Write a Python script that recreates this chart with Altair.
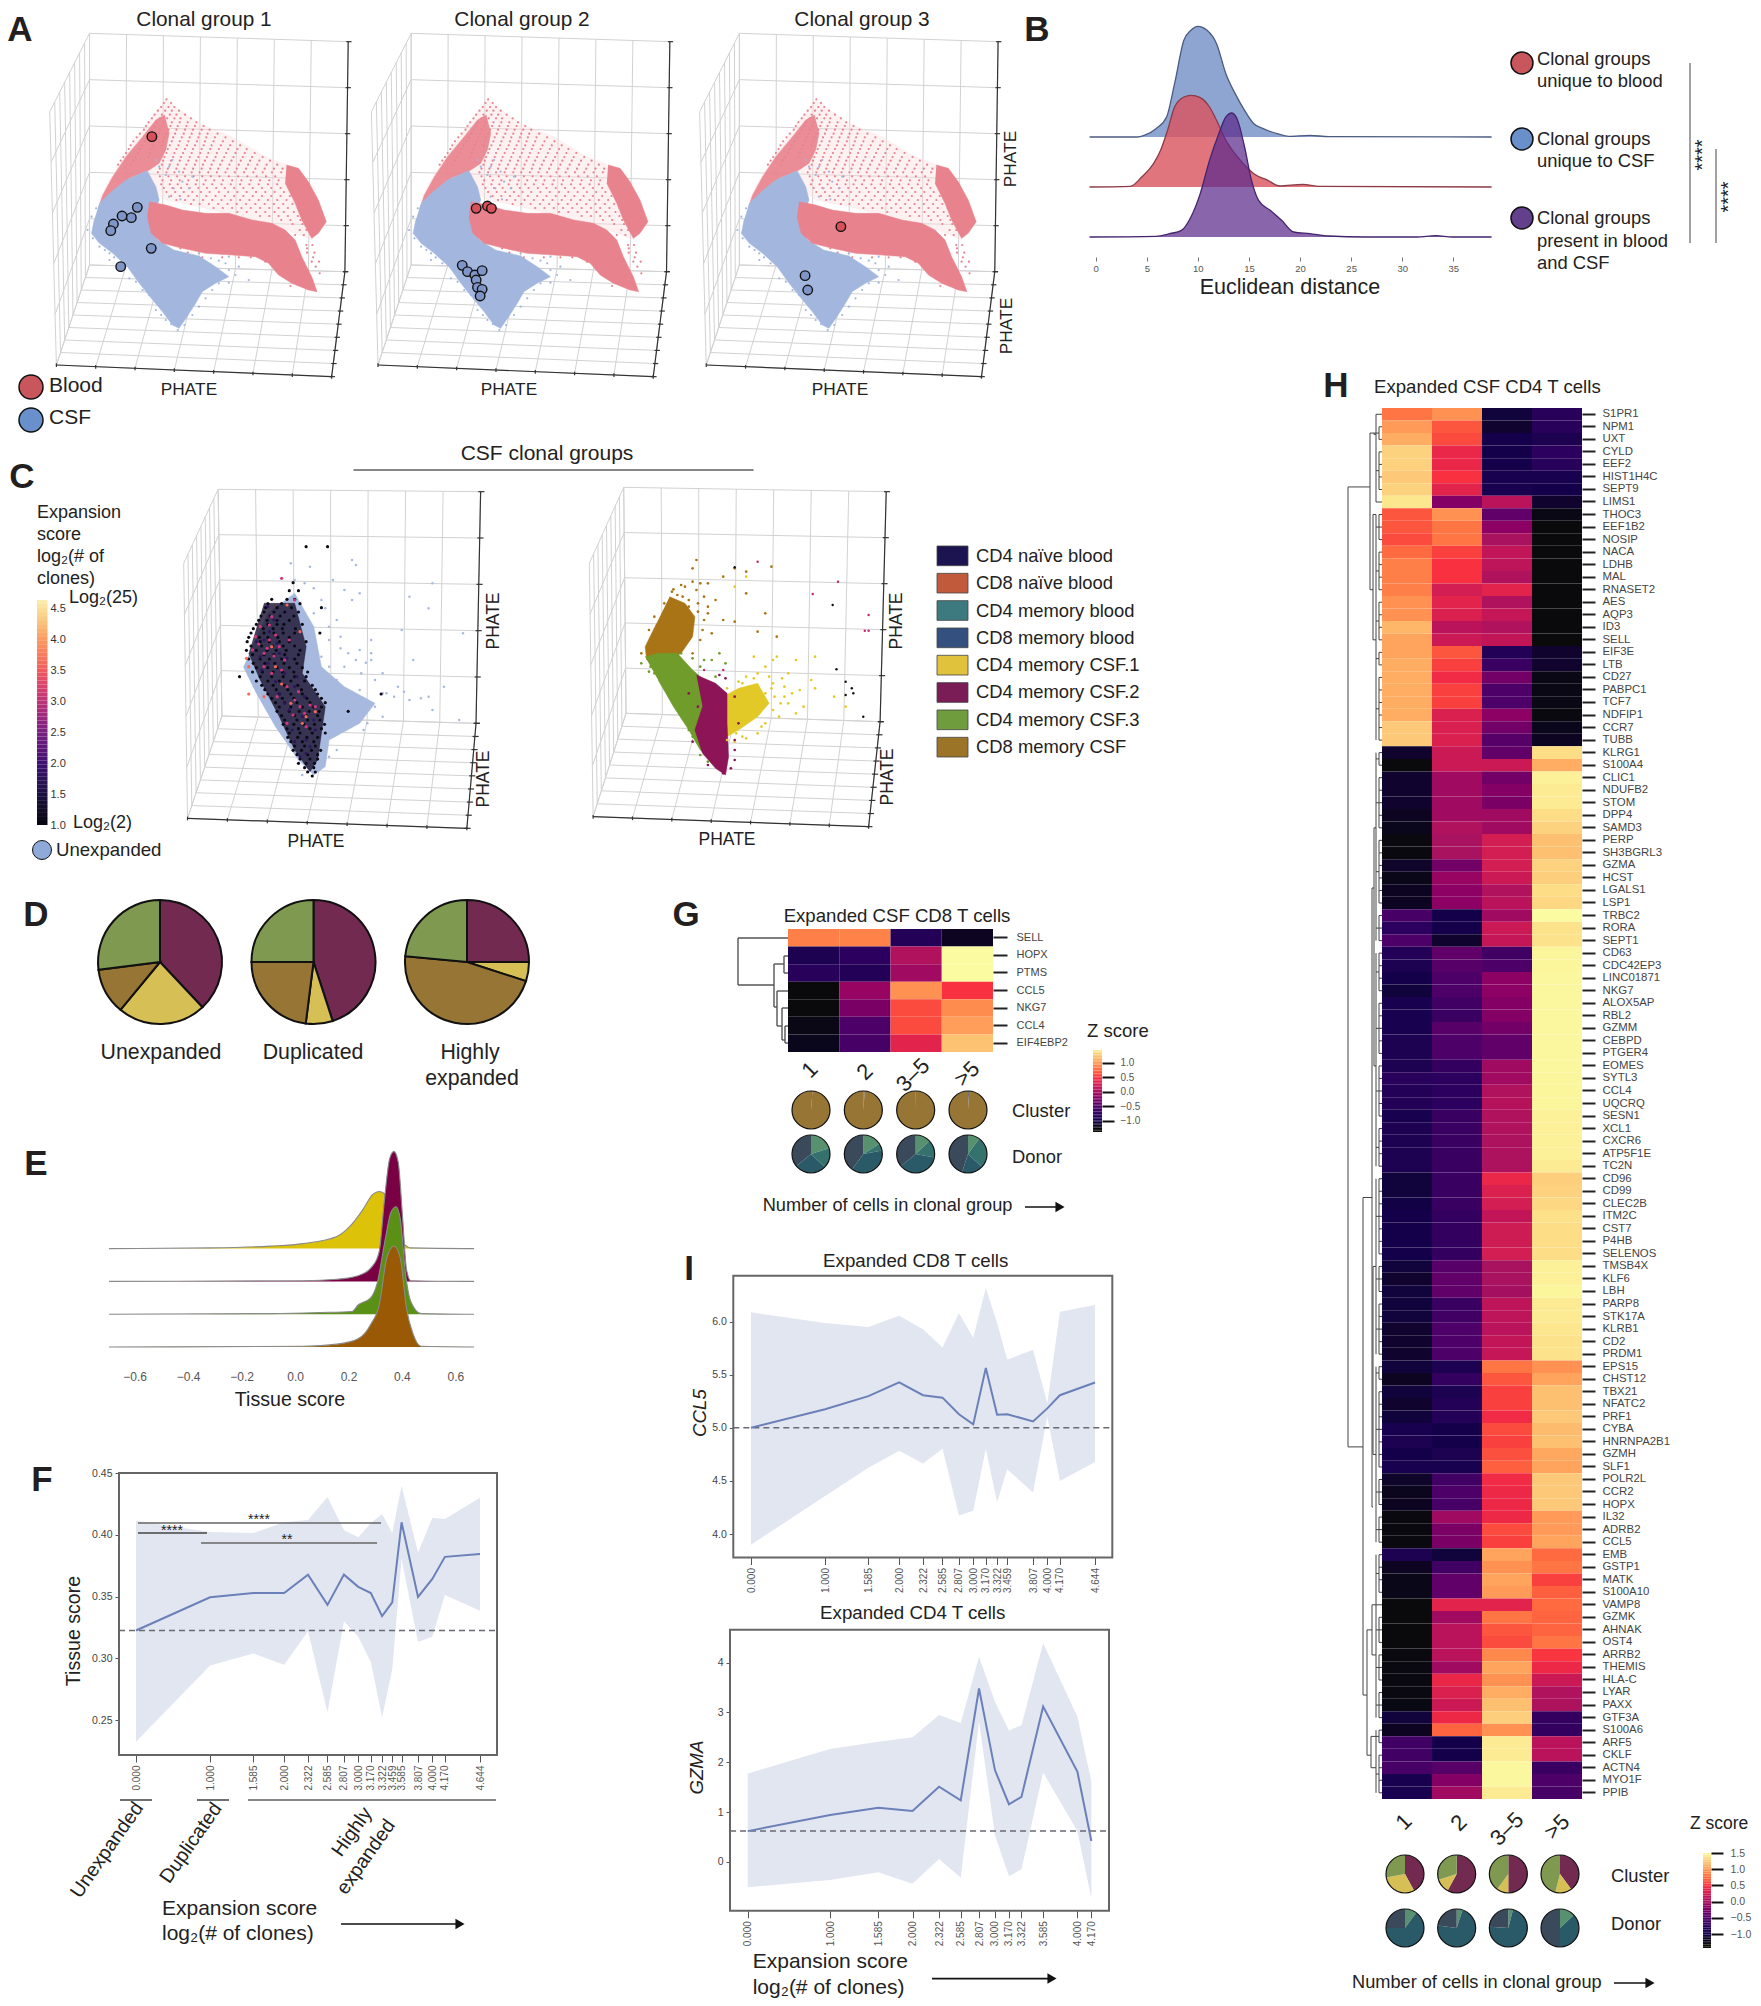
import altair as alt
import numpy as np
import pandas as pd

alt.data_transformers.disable_max_rows()
W, H = 1745, 1990
FONT = "Liberation Sans"
ONE = alt.Data(values=[{"a": 1}])
layers = []


def add(*c):
    layers.extend(c)


def lin(d0, d1, p0, p1):
    return alt.Scale(domain=[d0, d1], range=[p0 - 8, p1 - 8], nice=False, zero=False)


def T(s, x, y, size, align="left", angle=0, color="#222222", weight="normal", style="normal"):
    add(alt.Chart(ONE).mark_text(text=s, fontSize=size, align=align, baseline="middle", angle=angle,
                                 color=color, font=FONT, fontWeight=weight, fontStyle=style)
        .encode(x=alt.value(x - 8), y=alt.value(y - 8)))


def seg(x0, y0, x1, y1, color="#222222", w=1.5):
    add(alt.Chart(ONE).mark_rule(color=color, strokeWidth=w)
        .encode(x=alt.value(x0 - 8), x2=alt.value(x1 - 8), y=alt.value(y0 - 8), y2=alt.value(y1 - 8)))


def arrow(x0, x1, y):
    seg(x0, y, x1 - 6, y, "#111111", 1.6)
    add(alt.Chart(ONE).mark_point(shape="triangle-right", filled=True, size=110, color="#111111", opacity=1)
        .encode(x=alt.value(x1 - 8 - 5), y=alt.value(y - 8)))


def dot(x, y, r, color, sw=1.5):
    add(alt.Chart(ONE).mark_point(shape="circle", filled=True, size=(2 * r) ** 2, fill=color, stroke="#111111",
                                  strokeWidth=sw, opacity=1)
        .encode(x=alt.value(x - 8), y=alt.value(y - 8)))


def frame(x0, y0, x1, y1, color="#666666", w=2):
    add(alt.Chart(ONE).mark_rect(filled=False, stroke=color, strokeWidth=w, fill="transparent")
        .encode(x=alt.value(x0 - 8), x2=alt.value(x1 - 8), y=alt.value(y0 - 8), y2=alt.value(y1 - 8)))


def lines(segs, sx, sy, color, w=1.0):
    rows = []
    for k, (a, b, c, d) in enumerate(segs):
        rows += [{"g": k, "i": 0, "x": a, "y": b}, {"g": k, "i": 1, "x": c, "y": d}]
    add(alt.Chart(pd.DataFrame(rows)).mark_line(color=color, strokeWidth=w)
        .encode(x=alt.X("x:Q", scale=sx, axis=None), y=alt.Y("y:Q", scale=sy, axis=None),
                detail="g:N", order="i:Q"))


def polygon(pts, color, sx, sy, op=1.0):
    df = pd.DataFrame({"x": [p[0] for p in pts], "y": [p[1] for p in pts], "i": list(range(len(pts)))})
    add(alt.Chart(df).mark_line(fill=color, stroke=color, strokeWidth=0.5, fillOpacity=op, strokeOpacity=op)
        .encode(x=alt.X("x:Q", scale=sx, axis=None), y=alt.Y("y:Q", scale=sy, axis=None), order="i:Q"))


def scatter(pts, color, sx, sy, size=4.0, op=1.0):
    df = pd.DataFrame({"x": [p[0] for p in pts], "y": [p[1] for p in pts]})
    add(alt.Chart(df).mark_circle(color=color, size=size, opacity=op)
        .encode(x=alt.X("x:Q", scale=sx, axis=None), y=alt.Y("y:Q", scale=sy, axis=None)))


def rows_to_pts(rows):
    return [(x, y) for y, xs in rows.items() for x in xs]


def lerp(p, q, t):
    return (p[0] + (q[0] - p[0]) * t, p[1] + (q[1] - p[1]) * t)


def wire(c, sx, sy):
    BTL, BTR, BBR, BBL, FTL, FBL, FBR = c
    g = []
    for t in np.linspace(0, 1, 6):
        a, b = lerp(BTL, BBL, t), lerp(BTR, BBR, t)
        g.append((*a, *b))
        f = lerp(FTL, FBL, t)
        g.append((*a, *f))
    for s in np.linspace(0, 1, 8):
        a, b = lerp(BTL, BTR, s), lerp(BBL, BBR, s)
        g.append((*a, *b))
        g.append((*b, *lerp(FBL, FBR, s)))
    for u in np.linspace(0, 1, 9):
        g.append((*lerp(BBL, FBL, u), *lerp(BBR, FBR, u)))
        g.append((*lerp(BTL, FTL, u), *lerp(BBL, FBL, u)))
    lines(g, sx, sy, "#d2d2d2", 1.0)
    d = [(*BTR, *BBR), (*BBR, *FBR), (*FBL, *FBR)]
    for t in np.linspace(0, 1, 6):
        p = lerp(BTR, BBR, t)
        d.append((p[0] - 3, p[1], p[0] + 5, p[1]))
    for u in np.linspace(0, 1, 9):
        p = lerp(BBR, FBR, u)
        d.append((p[0] - 3, p[1], p[0] + 5, p[1]))
    for s in np.linspace(0, 1, 8):
        p = lerp(FBL, FBR, s)
        d.append((p[0], p[1] - 5, p[0], p[1] + 6))
    lines(d, sx, sy, "#333333", 1.2)


# ---------------- Panel A data (PHATE coordinates as read) ----------------
A_BOX = [(135, 100), (525, 125), (520, 815), (135, 795), (75, 335), (85, 1095), (500, 1130)]
A_SHIFT = [0, 485, 980]
A_PINK_ZONE = [(150, 600), (165, 540), (195, 450), (225, 360), (250, 300), (300, 370), (350, 410), (400, 470),
               (440, 500), (470, 580), (490, 670), (470, 720), (420, 680), (300, 620), (250, 600), (220, 560)]
A_PINK_ARC = [(148, 625), (155, 585), (170, 530), (190, 470), (215, 410), (235, 360), (248, 345), (255, 400), (250, 450),
              (240, 490), (225, 510), (195, 535), (175, 570), (165, 610)]
A_PINK_WING = [(432, 495), (450, 505), (465, 545), (480, 600), (492, 665), (480, 700), (470, 715), (455, 660), (445, 610), (430, 550)]
A_PINK_BAND = [(225, 605), (250, 615), (275, 630), (310, 640), (345, 640), (380, 660), (410, 670), (430, 690), (445, 720),
               (455, 770), (470, 830), (478, 875), (465, 870), (440, 850), (420, 825), (405, 790), (385, 770), (350, 765),
               (310, 760), (275, 745), (245, 730), (228, 700), (222, 650)]
A_BLUE_ZONE = [(150, 610), (168, 575), (190, 540), (222, 512), (235, 560), (240, 600), (232, 640), (226, 680), (238, 720),
               (262, 750), (300, 768), (325, 800), (345, 830), (325, 850), (305, 875), (295, 910), (282, 950), (270, 985),
               (260, 975), (245, 935), (228, 895), (210, 850), (192, 800), (170, 760), (150, 730), (138, 700), (142, 660)]
A_PINK_ROWS = {
    298: [251], 309: [247, 258], 321: [243, 254, 263], 332: [238, 249, 259, 270], 344: [233, 244, 256, 266, 279],
    355: [229, 241, 252, 263, 272, 288], 367: [224, 236, 247, 259, 271, 283, 296], 378: [220, 233, 245, 257, 268, 281, 294, 307],
    389: [217, 229, 241, 254, 266, 279, 291, 304, 316], 401: [211, 226, 239, 251, 264, 277, 289, 301, 313, 328],
    412: [206, 222, 236, 248, 261, 274, 286, 299, 311, 324, 340], 424: [201, 218, 234, 246, 259, 271, 284, 297, 309, 322, 336, 351],
    436: [197, 214, 231, 244, 256, 269, 282, 294, 307, 319, 333, 347, 362],
    447: [194, 211, 229, 253, 266, 279, 291, 304, 317, 330, 344, 358, 372],
    459: [190, 208, 226, 251, 263, 276, 289, 302, 314, 327, 341, 355, 369, 384],
    471: [186, 204, 224, 248, 261, 273, 286, 299, 312, 325, 338, 352, 366, 380, 396],
    482: [182, 201, 246, 258, 271, 284, 296, 309, 322, 335, 349, 363, 377, 391, 407],
    494: [178, 197, 244, 256, 268, 281, 294, 306, 319, 332, 346, 360, 374, 388, 402, 418],
    506: [241, 253, 266, 278, 291, 304, 317, 329, 343, 357, 371, 385, 399, 413, 426],
    517: [238, 251, 263, 276, 289, 301, 314, 327, 340, 354, 368, 382, 396, 410, 424],
    529: [241, 254, 267, 279, 292, 305, 318, 331, 345, 359, 373, 387, 401, 415],
    541: [245, 258, 271, 284, 297, 310, 323, 336, 350, 364, 378, 392, 406, 420],
    553: [243, 256, 268, 282, 295, 307, 320, 334, 348, 362, 376, 390, 404, 418, 433],
    564: [247, 260, 273, 286, 299, 312, 326, 339, 353, 367, 381, 395, 409, 423, 437],
    576: [251, 264, 277, 290, 303, 316, 330, 344, 358, 372, 386, 400, 414, 428, 442],
    588: [258, 271, 284, 297, 311, 325, 339, 353, 367, 381, 395, 409, 423, 437],
    600: [266, 279, 292, 306, 320, 334, 348, 362, 376, 390, 404, 418, 432, 446],
    612: [288, 301, 315, 329, 343, 357, 371, 385, 399, 413, 427, 441],
    624: [322, 336, 350, 364, 378, 392, 406, 420, 434, 449], 636: [358, 372, 386, 400, 414, 428, 443],
    648: [392, 406, 420, 434, 449], 660: [424, 438, 453], 672: [441, 456],
    690: [452, 462], 705: [445, 458], 735: [232, 462, 471], 745: [255, 272, 463], 758: [283, 463, 474],
    772: [305, 335, 360, 378, 396, 472], 785: [400, 470, 481], 800: [412, 476], 820: [425, 482], 840: [445, 456], 858: [438, 462],
}
A_BLUE_DOTS = [(140, 715), (150, 740), (158, 750), (165, 760), (172, 772), (165, 780), (182, 790), (195, 835), (205, 845), (215, 870),
               (225, 885), (235, 930), (243, 945), (250, 960), (258, 972), (268, 990), (278, 975), (290, 945), (300, 920), (310, 895),
               (320, 870), (330, 850), (345, 848), (360, 800), (345, 810), (355, 825), (375, 840), (340, 790), (330, 782), (345, 770),
               (318, 775), (335, 760), (300, 760), (255, 500), (270, 515), (290, 530), (260, 480), (240, 500), (235, 480), (250, 525),
               (275, 545), (262, 565), (285, 565), (255, 590), (272, 598), (140, 700), (132, 690), (145, 625), (138, 650), (150, 720)]
A1_BLUE = [(207, 622), (184, 648), (198, 653), (171, 672), (167, 692), (228, 745), (182, 800)]
A1_RED = [(229, 410)]
A2_BLUE = [(212, 796), (220, 815), (231, 825), (242, 812), (233, 840), (235, 862), (242, 868), (239, 888)]
A2_RED = [(233, 625), (250, 618), (256, 625)]
A3_BLUE = [(234, 827), (238, 870)]
A3_RED = [(288, 680)]
A_PICKS = [(A1_BLUE, A1_RED), (A2_BLUE, A2_RED), (A3_BLUE, A3_RED)]
PINK, BLUE = "#e8828c", "#a2b6de"

for n, dz in enumerate(A_SHIFT):
    dp = dz / 1.508
    sx = lin(0, 1568, dp, 1040 + dp)
    sy = lin(0, 1320, 0, 440)
    wire(A_BOX, sx, sy)
    polygon(A_PINK_ZONE, "#f9dcdf", sx, sy, 0.4)
    scatter(rows_to_pts(A_PINK_ROWS), PINK, sx, sy, 5)
    polygon(A_PINK_ARC, PINK, sx, sy, 0.9)
    polygon(A_BLUE_ZONE, BLUE, sx, sy)
    scatter(A_BLUE_DOTS, BLUE, sx, sy, 5)
    polygon(A_PINK_WING, PINK, sx, sy)
    polygon(A_PINK_BAND, PINK, sx, sy)
    for pts, col in zip(A_PICKS[n], ["#7f95c8", "#d8505a"]):
        df = pd.DataFrame({"x": [p[0] for p in pts], "y": [p[1] for p in pts]})
        add(alt.Chart(df).mark_point(shape="circle", filled=True, size=90, fill=col, stroke="#111111", strokeWidth=1.4,
                                     opacity=1)
            .encode(x=alt.X("x:Q", scale=sx, axis=None), y=alt.Y("y:Q", scale=sy, axis=None)))

for s, x in zip(["Clonal group 1", "Clonal group 2", "Clonal group 3"], [204, 522, 862]):
    T(s, x, 20, 20.8, "center")
for x in [189, 509, 840]:
    T("PHATE", x, 390, 17.3, "center")
T("PHATE", 1011, 159, 17.3, "center", 270)
T("PHATE", 1007, 326, 17.3, "center", 270)
dot(31, 387, 12, "#c9565c")
dot(31, 420, 12, "#6a90cc")
T("Blood", 49, 386, 21)
T("CSF", 49, 418, 21)

# ---------------- Panel B ----------------
B_BLUE_X = [-0.6, 4.06, 4.75, 5.9, 6.94, 7.72, 8.63, 9.32, 10.0, 10.9, 11.83, 12.74, 13.65, 14.57, 15.48, 16.39, 17.76, 18.9, 20.96, 22.8, 38.75]
B_BLUE_D = [0, 0, 5, 25, 60, 160, 290, 320, 332, 320, 280, 190, 130, 80, 40, 25, 10, 2, 5, 1, 0]
B_RED_X = [-0.6, 3.4, 4.5, 5.66, 6.35, 7.03, 7.72, 8.63, 9.32, 10.23, 11.14, 11.83, 12.74, 13.89, 15.48, 16.85, 18.0, 20.27, 21.87, 38.75]
B_RED_D = [0, 2, 30, 70, 110, 170, 240, 270, 275, 268, 240, 200, 140, 90, 40, 20, 3, 8, 2, 0]
B_PUR_X = [-0.6, 5.9, 7.26, 8.4, 9.32, 10.23, 11.14, 12.05, 12.74, 13.33, 13.89, 14.57, 15.25, 15.94, 17.08, 18.2, 19.37, 20.96, 22.8, 26.4, 31.45, 33.3, 34.9, 38.75]
B_PUR_D = [0, 2, 10, 20, 60, 130, 230, 310, 360, 372, 350, 270, 170, 110, 80, 50, 15, 10, 3, 0, 0, 4, 0, 0]
B_BASE = [137, 187, 237]
B_FILL = ["#6f8cc4", "#d9535c", "#5c2a8c"]
B_EDGE = ["#4a5a80", "#8a3a48", "#43246e"]
B_OP = [0.78, 0.8, 0.72]
bx = lin(0, 35, 1095.7, 1453.3)
for xs, ds, base, fc, ec, op in zip([B_BLUE_X, B_RED_X, B_PUR_X], [B_BLUE_D, B_RED_D, B_PUR_D], B_BASE, B_FILL, B_EDGE, B_OP):
    df = pd.DataFrame({"x": xs, "d": ds})
    by = lin(0, 1000, base, base - 333.33)
    add(alt.Chart(df).mark_area(color=fc, opacity=op, interpolate="monotone")
        .encode(x=alt.X("x:Q", scale=bx, axis=None), y=alt.Y("d:Q", scale=by, axis=None, stack=None)))
    add(alt.Chart(df).mark_line(color=ec, strokeWidth=1.3, interpolate="monotone")
        .encode(x=alt.X("x:Q", scale=bx, axis=None), y=alt.Y("d:Q", scale=by, axis=None)))
B_TICKS = [0, 5, 10, 15, 20, 25, 30, 35]
add(alt.Chart(pd.DataFrame({"x": B_TICKS, "y": [0] * 8})).mark_point(opacity=0)
    .encode(x=alt.X("x:Q", scale=bx, axis=alt.Axis(orient="bottom", offset=257 - 8 - H, values=B_TICKS, title=None,
                                                   domain=False, tickSize=4, tickColor="#777777", labelColor="#555555",
                                                   labelFont=FONT, labelFontSize=9.5, labelPadding=2, grid=False,
                                                   labelFlush=False, labelBound=False)),
            y=alt.Y("y:Q", scale=lin(0, 1, 250, 240), axis=None)))
T("Euclidean distance", 1290, 288, 21.5, "center")
for y, c in zip([63, 139, 218], ["#c9565c", "#6a90cc", "#63408c"]):
    dot(1522, y, 11, c)
for s, y in [("Clonal groups", 59), ("unique to blood", 81), ("Clonal groups", 139), ("unique to CSF", 161),
             ("Clonal groups", 218), ("present in blood", 241), ("and CSF", 263)]:
    T(s, 1537, y, 18.4)
seg(1690, 63, 1690, 243, "#444444", 1)
seg(1716, 149, 1716, 243, "#444444", 1)
T("****", 1703, 155, 20, "center", 270)
T("****", 1729, 197, 20, "center", 270)

# ---------------- Panel C ----------------
C1_BOX = [(285, 148), (628, 155), (622, 850), (290, 828), (240, 370), (245, 1135), (610, 1165)]
C2_BOX = [(815, 142), (1158, 155), (1150, 845), (818, 820), (770, 370), (775, 1130), (1135, 1160)]
csx, csy = lin(0, 1568, 0, 1200), lin(0, 1350, 440, 890)
wire(C1_BOX, csx, csy)
wire(C2_BOX, csx, csy)
C1_ZONE = [(330, 620), (350, 520), (385, 460), (410, 560), (420, 680), (450, 740), (490, 790), (470, 850), (430, 900), (425, 980),
           (410, 1005), (390, 960), (360, 860), (335, 760), (318, 680)]
C1_CORE = [(345, 490), (385, 490), (400, 620), (395, 700), (425, 800), (420, 880), (415, 960), (405, 995), (385, 930), (365, 830),
           (340, 720), (325, 640)]
C1_LIGHT = [(460, 360), (465, 375), (380, 370), (435, 420), (450, 450), (470, 460), (535, 470), (525, 570), (560, 505), (605, 580),
            (565, 430), (485, 600), (485, 660), (430, 600), (410, 520), (540, 660), (500, 700), (520, 740), (580, 740), (600, 840),
            (560, 770), (550, 775), (515, 770), (490, 800), (480, 850), (455, 790), (470, 750), (440, 720), (450, 680), (420, 650),
            (445, 625), (465, 660), (490, 720), (505, 760), (535, 780), (565, 810), (500, 830), (475, 870), (460, 815), (430, 560),
            (420, 480), (440, 540), (460, 480), (455, 640), (430, 680), (398, 430), (385, 420), (410, 445), (425, 505), (445, 590),
            (470, 630), (405, 380), (485, 640), (478, 668), (500, 760), (528, 755), (472, 700), (440, 930), (430, 950), (395, 1005)]
C1_BLACK_ROWS = {
    320: [400, 428], 428: [383], 452: [378, 390], 478: [355, 375, 385], 491: [350, 368, 392], 503: [347, 362, 381, 420], 516: [345, 358, 372, 390],
    528: [341, 353, 366, 384], 541: [338, 349, 362, 378], 553: [335, 350, 362, 371, 395], 566: [331, 344, 357, 369, 386],
    579: [328, 345, 358, 370, 385, 418], 592: [325, 339, 350, 363, 378], 605: [323, 340, 352, 365, 378, 400],
    618: [328, 342, 356, 370, 385], 631: [322, 335, 349, 361, 374, 392], 644: [330, 345, 358, 372, 390], 657: [325, 340, 352, 368, 385],
    670: [331, 346, 359, 371, 388], 683: [335, 350, 362, 378, 395], 696: [330, 343, 357, 369, 384, 402], 710: [313, 340, 355, 370, 385, 400],
    723: [335, 350, 365, 380, 398], 736: [342, 357, 372, 389, 408], 749: [346, 361, 376, 394, 412], 762: [350, 365, 380, 395, 415, 498],
    775: [355, 369, 384, 401, 420], 788: [360, 372, 388, 405, 425], 801: [365, 380, 395, 410, 420], 814: [362, 378, 391, 404, 417, 455],
    827: [368, 385, 400, 415], 840: [372, 388, 402, 418], 853: [370, 384, 397, 411, 424], 866: [375, 390, 405, 420],
    879: [378, 392, 408, 425], 892: [376, 389, 401, 415], 905: [380, 395, 410], 918: [385, 398, 412], 931: [383, 394, 407, 419],
    944: [388, 402, 415], 957: [392, 405, 415], 970: [390, 400, 411], 983: [398, 410], 996: [402, 412], 1008: [408],
}
C1_DARK = [(350, 500), (358, 540), (345, 600), (365, 640), (350, 670), (372, 700), (385, 740), (372, 790), (395, 830), (382, 870),
           (400, 900), (392, 950), (405, 920), (378, 810), (410, 840), (360, 725), (340, 650), (335, 605), (352, 575), (362, 610),
           (375, 655), (342, 690), (388, 710), (398, 770), (365, 760), (412, 870), (385, 905), (400, 940)]
C1_MAG = [(368, 415), (340, 560), (352, 600), (365, 620), (345, 640), (372, 660), (355, 700), (385, 780), (398, 820), (375, 740),
          (355, 530), (330, 630), (345, 680), (378, 600), (362, 770), (392, 800), (375, 850), (400, 860), (385, 480), (360, 585),
          (338, 612), (358, 648), (349, 625), (334, 590), (368, 690), (390, 755), (405, 795), (383, 825), (412, 800), (352, 555)]
C1_ORG = [(325, 762), (392, 575), (375, 495), (360, 680), (400, 830), (345, 770), (325, 680), (355, 620), (380, 790), (412, 815),
          (322, 655), (368, 732), (395, 850)]
polygon(C1_ZONE, "#a7b9de", csx, csy)
scatter(C1_LIGHT, "#a7b9de", csx, csy, 6)
polygon(C1_CORE, "#1e1634", csx, csy, 0.82)
scatter(rows_to_pts(C1_BLACK_ROWS), "#0a0a14", csx, csy, 10)
scatter(C1_DARK, "#2d1560", csx, csy, 10)
scatter(C1_MAG, "#d0387f", csx, csy, 10)
scatter(C1_ORG, "#f26a55", csx, csy, 10)

C2_BROWN = [(875, 470), (895, 490), (908, 530), (905, 590), (890, 640), (870, 665), (845, 660), (843, 620), (858, 550)]
C2_GREEN = [(843, 650), (860, 640), (885, 640), (905, 690), (925, 730), (920, 800), (912, 870), (925, 950), (915, 930), (900, 870),
            (880, 800), (860, 720)]
C2_MAROON = [(910, 705), (935, 730), (950, 760), (950, 850), (952, 950), (948, 1005), (935, 985), (918, 940), (908, 870), (918, 800)]
C2_YELLOW = [(945, 770), (965, 745), (990, 730), (1005, 790), (990, 830), (965, 870), (950, 890)]
polygon(C2_BROWN, "#a87415", csx, csy)
polygon(C2_GREEN, "#6f9c2a", csx, csy)
polygon(C2_YELLOW, "#e3c928", csx, csy)
polygon(C2_MAROON, "#8c1457", csx, csy)
C2_BROWN_DOTS = [(910, 360), (905, 385), (960, 385), (975, 395), (1008, 380), (890, 435), (915, 430), (925, 430), (945, 410), (900, 480),
                 (920, 470), (935, 480), (975, 460), (1000, 520), (945, 540), (960, 545), (990, 575), (1015, 590), (925, 520), (930, 580),
                 (910, 450), (885, 465), (900, 500), (920, 540), (915, 600), (905, 640), (878, 455), (892, 470), (868, 490), (855, 530),
                 (848, 570), (838, 640), (912, 515), (918, 570), (880, 448), (905, 425), (895, 440), (912, 490), (925, 500)]
C2_YEL_DOTS = [(1015, 650), (1040, 660), (1065, 650), (985, 650), (1000, 680), (1030, 700), (1060, 720), (1045, 750), (1090, 770),
               (1105, 800), (1050, 800), (1000, 850), (1020, 790), (1040, 820), (990, 700), (970, 730), (1010, 730), (1000, 760),
               (980, 830), (1010, 660), (1035, 760), (1065, 745), (975, 410), (960, 440), (1010, 810), (1025, 740), (990, 880), (970, 890),
               (1012, 770), (1018, 830), (995, 860), (975, 895), (960, 905), (985, 715), (965, 725), (950, 745), (1005, 710), (1022, 715),
               (1008, 745), (1030, 790), (1025, 770), (975, 710), (950, 900), (962, 880)]
C2_BLK_DOTS = [(1093, 688), (1105, 725), (1113, 745), (1115, 760), (1105, 765), (1128, 830), (960, 382), (1088, 495)]
C2_MAG_DOTS = [(1095, 425), (1062, 462), (1135, 525), (1130, 572), (1135, 572), (990, 365), (945, 690), (920, 690)]
C2_GRN_DOTS = [(850, 680), (865, 730), (875, 760), (890, 810), (900, 870), (930, 660), (940, 640), (890, 640), (915, 680), (880, 700),
               (855, 700), (870, 745), (882, 780), (895, 840), (905, 890), (915, 945), (925, 965), (935, 710), (948, 670), (905, 655),
               (838, 670), (848, 695), (920, 660)]
C2_MAR_DOTS = [(945, 1000), (930, 960), (960, 960), (960, 900), (965, 850), (925, 740), (960, 770), (925, 975), (955, 985), (905, 905),
               (960, 930), (912, 800), (900, 760), (948, 715), (940, 705)]
scatter(C2_BROWN_DOTS, "#a87415", csx, csy, 7)
scatter(C2_YEL_DOTS, "#e3c928", csx, csy, 7)
scatter(C2_GRN_DOTS, "#6f9c2a", csx, csy, 7)
scatter(C2_MAR_DOTS, "#8c1457", csx, csy, 7)
scatter(C2_MAG_DOTS, "#c02a70", csx, csy, 6)
scatter(C2_BLK_DOTS, "#111111", csx, csy, 6)

T("CSF clonal groups", 547, 454, 21, "center")
seg(353.5, 470, 753.6, 470, "#888888", 2)
for s, y in [("Expansion", 513), ("score", 535), ("log₂(# of", 557), ("clones)", 579)]:
    T(s, 37, y, 18)
T("Log₂(25)", 69, 598, 18)
T("Log₂(2)", 73, 823, 18)
dot(42, 850, 9.5, "#8fa9d8", 1)
T("Unexpanded", 56, 850, 18.6)
T("PHATE", 316, 842, 17.5, "center")
T("PHATE", 727, 840, 17.5, "center")
T("PHATE", 493.5, 621, 17.5, "center", 270)
T("PHATE", 483.5, 779, 17.5, "center", 270)
T("PHATE", 896.7, 621, 17.5, "center", 270)
T("PHATE", 887.5, 777, 17.5, "center", 270)

C_STOPS = [1.0, 1.5, 2.0, 2.5, 3.0, 3.5, 4.0, 4.64]
C_COLORS = ["#05040c", "#1c1040", "#3f0f72", "#782281", "#bb3478", "#ef5b5e", "#fb9a62", "#fcf0b0"]


def cbar(vmin, vmax, y_bot, y_top, x0, x1, stops, cols, ticks, tick, pad, fs, color):
    v = np.linspace(vmin, vmax, 57)
    df = pd.DataFrame({"lo": v[:-1], "hi": v[1:], "m": (v[:-1] + v[1:]) / 2})
    add(alt.Chart(df).mark_rect()
        .encode(x=alt.value(x0 - 8), x2=alt.value(x1 - 8),
                y=alt.Y("lo:Q", scale=lin(vmin, vmax, y_bot, y_top),
                        axis=alt.Axis(orient="right", offset=x1 - 8 - W, values=ticks, format=".1f", title=None, domain=False,
                                      grid=False, tickSize=tick, tickWidth=2, tickColor="#111111", labelPadding=pad,
                                      labelFontSize=fs, labelColor=color, labelFont=FONT, labelFlush=False, labelBound=False)),
                y2="hi:Q",
                color=alt.Color("m:Q", scale=alt.Scale(domain=stops, range=cols), legend=None)))


cbar(1.0, 4.64, 825, 600, 37, 47.5, C_STOPS, C_COLORS, [1.0, 1.5, 2.0, 2.5, 3.0, 3.5, 4.0, 4.5], 0, 2.5, 11, "#333333")

L_NAMES = ["CD4 naïve blood", "CD8 naïve blood", "CD4 memory blood", "CD8 memory blood", "CD4 memory CSF.1", "CD4 memory CSF.2",
           "CD4 memory CSF.3", "CD8 memory CSF"]
L_COLORS = ["#1c1450", "#c15a3a", "#3d7a80", "#33507e", "#e0c23c", "#7a1c56", "#6f9c3c", "#9c7428"]
add(alt.Chart(pd.DataFrame({"n": L_NAMES})).mark_rect(stroke="#444444", strokeWidth=0.8)
    .encode(x=alt.value(937 - 8), x2=alt.value(968 - 8),
            y=alt.Y("n:N", sort=L_NAMES,
                    scale=alt.Scale(domain=L_NAMES, range=[546 - 8, 757 - 8], paddingInner=0.28, paddingOuter=0),
                    axis=alt.Axis(orient="right", offset=968 - 8 - W, title=None, domain=False, ticks=False, labelPadding=7.5,
                                  labelFontSize=18.4, labelColor="#222222", labelFont=FONT, grid=False, labelLimit=300)),
            color=alt.Color("n:N", scale=alt.Scale(domain=L_NAMES, range=L_COLORS), legend=None)))

# ---------------- Pies ----------------
MAROON, YEL, BROWN, GREEN = "#722a50", "#d6bf55", "#977535", "#7f9a50"
SLICE_COLORS = {"maroon": MAROON, "yellow": YEL, "brown": BROWN, "green": GREEN, "gray": "#6f7078",
                "d1": "#58916f", "d2": "#35726e", "d3": "#2a5a68", "d4": "#3a4a5a"}


def pies(shares, names, xs, y, r, sw=1.6, separators=False):
    rows = []
    for i, sh in enumerate(shares):
        c = 0.0
        for nm, v in zip(names, sh):
            if v <= 0:
                continue
            rows.append({"pie": str(i), "s": nm, "a": c, "b": c + v})
            c += v
    dom = [str(i) for i in range(len(shares))]
    xsc = alt.Scale(type="point", domain=dom, range=[xs[0] - 8, xs[1] - 8], padding=0)
    tsc = alt.Scale(domain=[0, 1], range=[0, 2 * np.pi])
    kw = {"stroke": "#111111", "strokeWidth": sw} if separators else {}
    add(alt.Chart(pd.DataFrame(rows)).mark_arc(outerRadius=r, **kw)
        .encode(x=alt.X("pie:N", scale=xsc, axis=None), y=alt.value(y - 8),
                theta=alt.Theta("a:Q", scale=tsc, stack=None), theta2="b:Q",
                color=alt.Color("s:N", scale=alt.Scale(domain=names, range=[SLICE_COLORS[n] for n in names]), legend=None)))
    if not separators:
        ring = pd.DataFrame({"pie": dom, "a": [0.0] * len(dom), "b": [1.0] * len(dom)})
        add(alt.Chart(ring).mark_arc(outerRadius=r, fill="transparent", stroke="#111111", strokeWidth=sw)
            .encode(x=alt.X("pie:N", scale=xsc, axis=None), y=alt.value(y - 8),
                    theta=alt.Theta("a:Q", scale=tsc, stack=None), theta2="b:Q"))


D_SHARES = [[0.38, 0.23, 0.12, 0.27], [0.45, 0.07, 0.23, 0.25], [0.25, 0.05, 0.465, 0.235]]
pies(D_SHARES, ["maroon", "yellow", "brown", "green"], [160, 467], 962, 62, 2, True)
T("Unexpanded", 161, 1053, 21.3, "center")
T("Duplicated", 313, 1053, 21.3, "center")
T("Highly", 470, 1053, 21.3, "center")
T("expanded", 472, 1079, 21.3, "center")

# ---------------- Panel E ----------------
E_Y_X = [-0.696, -0.315, -0.094, 0.031, 0.157, 0.205, 0.252, 0.291, 0.315, 0.339, 0.354, 0.386, 0.409, 0.433, 0.67]
E_Y_D = [0, 2, 7, 14, 34, 62, 107, 152, 160, 150, 100, 32, 12, 2, 0]
E_M_X = [-0.696, 0.031, 0.157, 0.236, 0.291, 0.315, 0.334, 0.354, 0.37, 0.386, 0.402, 0.417, 0.433, 0.67]
E_M_D = [0, 2, 6, 16, 44, 84, 224, 344, 364, 334, 184, 34, 2, 0]
E_G_X = [-0.696, -0.094, 0.094, 0.213, 0.236, 0.283, 0.307, 0.339, 0.359, 0.378, 0.394, 0.413, 0.433, 0.472, 0.67]
E_G_D = [0, 2, 5, 8, 26, 46, 86, 216, 286, 301, 266, 116, 36, 2, 0]
E_B_X = [-0.696, 0.031, 0.157, 0.236, 0.283, 0.315, 0.343, 0.37, 0.394, 0.417, 0.441, 0.472, 0.67]
E_B_D = [0, 2, 8, 23, 63, 118, 248, 283, 248, 108, 38, 2, 0]
ex = lin(-0.6, 0.6, 134.7, 455.4)
E_SERIES = [(E_Y_X, E_Y_D, 1248.6, "#dcc208"), (E_M_X, E_M_D, 1281.4, "#7a0044"), (E_G_X, E_G_D, 1314.3, "#5a9016"), (E_B_X, E_B_D, 1347, "#9a5a05")]
for xs, ds, base, col in E_SERIES:
    df = pd.DataFrame({"x": xs, "d": ds})
    ey = lin(0, 400, base, base - 400 / 2.8)
    add(alt.Chart(df).mark_area(color=col, interpolate="monotone")
        .encode(x=alt.X("x:Q", scale=ex, axis=None), y=alt.Y("d:Q", scale=ey, axis=None, stack=None)))
    add(alt.Chart(df).mark_line(color="#8a8a8a", strokeWidth=1.1, interpolate="monotone")
        .encode(x=alt.X("x:Q", scale=ex, axis=None), y=alt.Y("d:Q", scale=ey, axis=None)))
E_TICKS = [-0.6, -0.4, -0.2, 0.0, 0.2, 0.4, 0.6]
add(alt.Chart(pd.DataFrame({"x": E_TICKS, "y": [0] * 7})).mark_point(opacity=0)
    .encode(x=alt.X("x:Q", scale=ex, axis=alt.Axis(orient="bottom", offset=1370 - 8 - H, values=E_TICKS, format=".1f", title=None,
                                                   domain=False, ticks=False, labelColor="#555555", labelFont=FONT,
                                                   labelFontSize=12, labelPadding=1, grid=False, labelFlush=False, labelBound=False)),
            y=alt.Y("y:Q", scale=lin(0, 1, 1360, 1350), axis=None)))
T("Tissue score", 290, 1400, 19.6, "center")

# ---------------- Line panels ----------------


def band_panel(xs, mean, lo, hi, dash, x0px, unit, box, yticks, yp, ticks_x, labsize, y_fmt):
    x_left, y_top, x_right, y_bot = box
    xmin, xmax = (x_left - x0px) / unit, (x_right - x0px) / unit
    sx = lin(xmin, xmax, x_left, x_right)
    (v0, p0), (v1, p1) = yp
    sy = lin(v0 + (y_bot - p0) * (v1 - v0) / (p1 - p0), v0 + (y_top - p0) * (v1 - v0) / (p1 - p0), y_bot, y_top)
    df = pd.DataFrame({"x": xs, "m": mean, "lo": lo, "hi": hi})
    add(alt.Chart(df).mark_area(color="#e1e6f1")
        .encode(x=alt.X("x:Q", scale=sx, axis=None), y=alt.Y("lo:Q", scale=sy, axis=None), y2="hi:Q"))
    add(alt.Chart(pd.DataFrame({"x": [xmin, xmax], "y": [dash, dash]}))
        .mark_line(color="#6a6a72", strokeWidth=1.5, strokeDash=[6, 4])
        .encode(x=alt.X("x:Q", scale=sx, axis=None), y=alt.Y("y:Q", scale=sy, axis=None)))
    add(alt.Chart(df).mark_line(color="#6b80b8", strokeWidth=2)
        .encode(x=alt.X("x:Q", scale=sx,
                        axis=alt.Axis(orient="bottom", offset=y_bot - 8 - H, values=ticks_x, format=".3f", title=None, domain=False,
                                      grid=False, tickSize=7, tickColor="#555555", labelAngle=270, labelAlign="right",
                                      labelBaseline="middle", labelPadding=3, labelFontSize=labsize, labelColor="#555555",
                                      labelFont=FONT, labelOverlap=False, labelBound=False, labelFlush=False)),
                y=alt.Y("m:Q", scale=sy,
                        axis=alt.Axis(orient="left", offset=-(x_left - 8), values=yticks, format=y_fmt, title=None, domain=False,
                                      grid=False, tickSize=4, tickColor="#555555", labelFontSize=10.5, labelColor="#444444",
                                      labelFont=FONT, labelPadding=3, labelOverlap=False, labelFlush=False, labelBound=False))))
    frame(x_left, y_top, x_right, y_bot, "#666666", 2)


F_X = [0.0, 1.0, 1.585, 2.0, 2.322, 2.585, 2.807, 3.0, 3.17, 3.322, 3.459, 3.585, 3.807, 4.0, 4.17, 4.644]
F_M = [0.3225, 0.3494, 0.3529, 0.3529, 0.3678, 0.3433, 0.3678, 0.3579, 0.3529, 0.3342, 0.3453, 0.4102, 0.3497, 0.3643, 0.3822, 0.3845]
F_HI = [0.4114, 0.4023, 0.4015, 0.4102, 0.412, 0.4307, 0.4038, 0.398, 0.4096, 0.417, 0.4015, 0.4398, 0.3857, 0.4137, 0.4129, 0.4301]
F_LO = [0.2324, 0.2941, 0.3038, 0.2947, 0.3219, 0.2561, 0.3301, 0.3175, 0.297, 0.2523, 0.2912, 0.3804, 0.3132, 0.3175, 0.3512, 0.3386]
band_panel(F_X, F_M, F_LO, F_HI, 0.3225, 136, 74.08, (119, 1473, 497, 1755), [0.25, 0.30, 0.35, 0.40, 0.45],
           ((0.25, 1720), (0.45, 1473.2)), F_X, 10, ".2f")
T("Tissue score", 74, 1631, 19.6, "center", 270)
seg(138, 1523, 381, 1523, "#666666", 1.6)
seg(138, 1533, 207, 1533, "#444444", 1.3)
seg(201, 1543, 377, 1543, "#666666", 1.6)
T("****", 259, 1520, 14, "center")
T("****", 172, 1531, 14, "center")
T("**", 287, 1540, 14, "center")
seg(120, 1800, 152, 1800, "#111111", 1.2)
seg(197, 1800, 229, 1800, "#111111", 1.2)
seg(248, 1800, 496, 1800, "#111111", 1.2)
T("Unexpanded", 107, 1850, 19.7, "center", 305)
T("Duplicated", 191, 1843, 19.7, "center", 305)
T("Highly", 352, 1832, 19.7, "center", 305)
T("expanded", 366, 1857, 19.7, "center", 305)
T("Expansion score", 162, 1909, 21)
T("log₂(# of clones)", 162, 1934, 21)
arrow(341, 465, 1924)

I1_X = [0.0, 1.0, 1.585, 2.0, 2.322, 2.585, 2.807, 3.0, 3.17, 3.322, 3.459, 3.807, 4.0, 4.17, 4.644]
I1_M = [5.0, 5.174, 5.298, 5.427, 5.307, 5.284, 5.128, 5.032, 5.564, 5.124, 5.128, 5.06, 5.183, 5.307, 5.427]
I1_HI = [6.087, 5.986, 5.95, 6.055, 5.927, 5.757, 6.078, 5.849, 6.317, 5.986, 5.642, 5.734, 5.23, 6.092, 6.156]
I1_LO = [3.899, 4.358, 4.624, 4.784, 4.665, 4.803, 4.174, 4.22, 4.803, 4.298, 4.61, 4.39, 5.105, 4.5, 4.679]
band_panel(I1_X, I1_M, I1_LO, I1_HI, 5.0, 751, 74.08, (733.3, 1275.7, 1112.3, 1557.5), [4.0, 4.5, 5.0, 5.5, 6.0],
           ((4.0, 1534), (6.0, 1321.6)), I1_X, 10, ".1f")
T("Expanded CD8 T cells", 915.7, 1260.5, 18.7, "center")
T("CCL5", 700, 1413, 18.7, "center", 270, style="italic")

I2_X = [0.0, 1.0, 1.585, 2.0, 2.322, 2.585, 2.807, 3.0, 3.17, 3.322, 3.585, 4.0, 4.17]
I2_M = [0.618, 0.94, 1.088, 1.02, 1.51, 1.235, 3.48, 1.843, 1.157, 1.304, 3.118, 1.814, 0.42]
I2_HI = [1.775, 2.265, 2.41, 2.5, 2.95, 2.79, 4.118, 3.216, 2.637, 2.745, 4.39, 2.92, 1.618]
I2_LO = [-0.51, -0.363, -0.206, -0.44, 0.06, -0.32, 2.82, 0.54, -0.29, -0.147, 1.794, 0.618, -0.725]
band_panel(I2_X, I2_M, I2_LO, I2_HI, 0.62, 747.7, 82.41, (730, 1629.8, 1109, 1910.7), [0, 1, 2, 3, 4],
           ((0, 1861.9), (4, 1662.6)), I2_X, 10, "d")
T("Expanded CD4 T cells", 912.7, 1612.7, 18.7, "center")
T("GZMA", 697, 1767.6, 18.7, "center", 270, style="italic")
T("Expansion score", 752.7, 1962, 21)
T("log₂(# of clones)", 752.7, 1988, 21)
arrow(932, 1057, 1978.6)

# ---------------- Heatmaps ----------------
Z_STOPS = [-1.3, -1.15, -1.0, -0.75, -0.5, -0.25, 0.0, 0.25, 0.5, 0.75, 1.0, 1.25, 1.5]
Z_COLORS = ["#0a0a0c", "#0c0420", "#14004a", "#2c005e", "#4c0068", "#7a0066", "#a8125e", "#d21e52", "#f83040", "#ff6a40", "#ff9a58",
            "#fdc878", "#fbfba2"]
COLS = ["1", "2", "3–5", ">5"]

G_GENES = ["SELL", "HOPX", "PTMS", "CCL5", "NKG7", "CCL4", "EIF4EBP2"]
G_Z = [(0.85, 0.87, -0.85, -1.15), (-0.9, -0.75, 0.05, 1.5), (-0.8, -0.85, -0.05, 1.5), (-1.3, -0.1, 0.95, 0.5), (-1.3, -0.25, 0.6, 0.92),
       (-1.25, -0.5, 0.6, 1.02), (-1.2, -0.55, 0.35, 1.22)]

H_DATA = [
    ("S1PR1", 0.8, 0.95, -1.05, -0.8), ("NPM1", 1.0, 0.65, -1.1, -0.8), ("UXT", 1.1, 0.6, -1.0, -0.9), ("CYLD", 1.3, 0.4, -1.0, -0.75),
    ("EEF2", 1.3, 0.4, -1.0, -0.8), ("HIST1H4C", 1.25, 0.5, -0.95, -0.95), ("SEPT9", 1.3, 0.35, -0.95, -1.0), ("LIMS1", 1.4, -0.2, 0.1, -1.1),
    ("THOC3", 0.65, 0.95, -0.4, -1.25), ("EEF1B2", 0.65, 0.8, -0.15, -1.3), ("NOSIP", 0.6, 0.8, 0.0, -1.3), ("NACA", 0.75, 0.55, 0.15, -1.3),
    ("LDHB", 0.85, 0.5, 0.12, -1.3), ("MAL", 0.85, 0.5, 0.05, -1.3), ("RNASET2", 0.85, 0.25, 0.35, -1.3), ("AES", 0.95, 0.35, 0.05, -1.3),
    ("AQP3", 0.95, 0.3, 0.17, -1.3), ("ID3", 1.15, 0.1, 0.05, -1.3), ("SELL", 1.05, 0.2, 0.15, -1.3), ("EIF3E", 1.05, 0.65, -0.85, -1.1),
    ("LTB", 1.1, 0.55, -0.65, -1.1), ("CD27", 1.1, 0.45, -0.3, -1.25), ("PABPC1", 1.1, 0.55, -0.5, -1.25), ("TCF7", 1.1, 0.55, -0.5, -1.25),
    ("NDFIP1", 1.1, 0.3, -0.15, -1.28), ("CCR7", 1.25, 0.3, -0.3, -1.2), ("TUBB", 1.25, 0.3, -0.45, -1.15), ("KLRG1", -1.1, 0.2, -0.4, 1.35),
    ("S100A4", -1.3, 0.2, 0.2, 1.1), ("CLIC1", -1.1, -0.05, -0.3, 1.45), ("NDUFB2", -1.1, -0.05, -0.2, 1.42), ("STOM", -1.1, -0.05, -0.25, 1.42),
    ("DPP4", -1.15, -0.05, -0.05, 1.35), ("SAMD3", -1.2, 0.05, -0.05, 1.3), ("PERP", -1.28, 0.0, 0.25, 1.2), ("SH3BGRL3", -1.28, 0.0, 0.25, 1.2),
    ("GZMA", -1.12, -0.3, 0.25, 1.3), ("HCST", -1.22, -0.1, 0.2, 1.28), ("LGALS1", -1.15, -0.15, 0.05, 1.35), ("LSP1", -1.15, -0.15, 0.1, 1.32),
    ("TRBC2", -0.55, -1.0, -0.05, 1.5), ("RORA", -0.75, -1.0, 0.2, 1.38), ("SEPT1", -0.5, -1.1, 0.17, 1.38), ("CD63", -0.85, -0.4, -0.6, 1.47),
    ("CDC42EP3", -0.9, -0.45, -0.5, 1.47), ("LINC01871", -1.0, -0.5, -0.15, 1.48), ("NKG7", -1.05, -0.5, -0.15, 1.48), ("ALOX5AP", -0.95, -0.6, -0.2, 1.48),
    ("RBL2", -0.95, -0.65, -0.2, 1.48), ("GZMM", -0.95, -0.45, -0.3, 1.48), ("CEBPD", -0.9, -0.5, -0.4, 1.48), ("PTGER4", -0.9, -0.5, -0.4, 1.48),
    ("EOMES", -0.9, -0.7, -0.05, 1.48), ("SYTL3", -0.8, -0.75, -0.05, 1.47), ("CCL4", -0.85, -0.75, 0.05, 1.47), ("UQCRQ", -0.85, -0.75, 0.08, 1.47),
    ("SESN1", -0.95, -0.65, 0.05, 1.45), ("XCL1", -0.9, -0.65, 0.05, 1.45), ("CXCR6", -0.9, -0.65, 0.02, 1.45), ("ATP5F1E", -0.9, -0.65, 0.02, 1.45),
    ("TC2N", -0.9, -0.65, 0.02, 1.42), ("CD96", -1.05, -0.65, 0.4, 1.28), ("CD99", -1.05, -0.65, 0.3, 1.3), ("CLEC2B", -1.02, -0.65, 0.25, 1.32),
    ("ITM2C", -1.0, -0.7, 0.15, 1.37), ("CST7", -1.0, -0.7, 0.22, 1.35), ("P4HB", -1.0, -0.7, 0.22, 1.35), ("SELENOS", -1.0, -0.7, 0.25, 1.35),
    ("TMSB4X", -1.05, -0.45, 0.0, 1.45), ("KLF6", -1.1, -0.4, 0.0, 1.45), ("LBH", -1.05, -0.4, -0.02, 1.47), ("PARP8", -1.05, -0.65, 0.12, 1.42),
    ("STK17A", -1.05, -0.6, 0.12, 1.42), ("KLRB1", -1.1, -0.5, 0.1, 1.4), ("CD2", -1.1, -0.5, 0.15, 1.38), ("PRDM1", -1.1, -0.5, 0.17, 1.38),
    ("EPS15", -1.05, -0.9, 0.8, 0.95), ("CHST12", -1.15, -0.7, 0.65, 1.05), ("TBX21", -1.05, -0.9, 0.55, 1.2), ("NFATC2", -1.1, -0.85, 0.55, 1.2),
    ("PRF1", -1.05, -0.85, 0.45, 1.25), ("CYBA", -0.95, -1.0, 0.6, 1.18), ("HNRNPA2B1", -0.9, -1.0, 0.55, 1.2), ("GZMH", -1.0, -0.9, 0.62, 1.07),
    ("SLF1", -0.95, -0.95, 0.7, 1.05), ("POLR2L", -1.12, -0.6, 0.45, 1.25), ("CCR2", -1.18, -0.5, 0.42, 1.25), ("HOPX", -1.15, -0.55, 0.42, 1.25),
    ("IL32", -1.28, -0.05, 0.42, 1.0), ("ADRB2", -1.28, -0.25, 0.6, 1.0), ("CCL5", -1.28, -0.25, 0.55, 1.05), ("EMB", -0.9, -1.05, 1.05, 0.75),
    ("GSTP1", -1.15, -0.6, 0.95, 0.8), ("MATK", -1.22, -0.4, 1.05, 0.55), ("S100A10", -1.22, -0.4, 1.0, 0.7), ("VAMP8", -1.3, 0.35, 0.35, 0.75),
    ("GZMK", -1.3, -0.05, 0.8, 0.72), ("AHNAK", -1.3, 0.1, 0.65, 0.72), ("OST4", -1.3, 0.1, 0.6, 0.8), ("ARRB2", -1.28, 0.1, 0.9, 0.52),
    ("THEMIS", -1.27, -0.05, 1.05, 0.42), ("HLA-C", -1.27, 0.4, 0.95, 0.2), ("LYAR", -1.27, 0.3, 1.1, 0.05), ("PAXX", -1.26, 0.2, 1.2, 0.03),
    ("GTF3A", -1.05, 0.42, 1.28, -0.7), ("S100A6", -1.15, 0.72, 0.95, -0.7), ("ARF5", -0.6, -1.0, 1.42, 0.1), ("CKLF", -0.6, -1.0, 1.42, 0.1),
    ("ACTN4", -0.55, -0.45, 1.48, -0.65), ("MYO1F", -0.95, -0.2, 1.48, -0.5), ("PPIB", -0.95, -0.05, 1.42, -0.55),
]
H_GENES = [r[0] for r in H_DATA]
H_Z = [r[1:] for r in H_DATA]


def heat(genes, zs, x0, x1, y0, y1, tick, pad, fs):
    rows = [{"g": i, "name": g, "c": c, "z": z[j]} for i, (g, z) in enumerate(zip(genes, zs)) for j, c in enumerate(COLS)]
    dom = list(range(len(genes)))
    label_map = "{" + ",".join(f"{i}:'{g}'" for i, g in enumerate(genes)) + "}"
    add(alt.Chart(pd.DataFrame(rows)).mark_rect()
        .encode(x=alt.X("c:N", sort=COLS, scale=alt.Scale(domain=COLS, range=[x0 - 8, x1 - 8], paddingInner=0, paddingOuter=0), axis=None),
                y=alt.Y("g:O", sort=dom, scale=alt.Scale(domain=dom, range=[y0 - 8, y1 - 8], paddingInner=0, paddingOuter=0),
                        axis=alt.Axis(orient="right", offset=x1 - 8 - W, title=None, domain=False, grid=False, tickSize=tick, tickWidth=2,
                                      tickColor="#222222", labelPadding=pad, labelFontSize=fs, labelColor="#444444", labelFont=FONT,
                                      labelAngle=0, labelOverlap=False, labelExpr=label_map + "[datum.value]", labelLimit=200)),
                color=alt.Color("z:Q", scale=alt.Scale(domain=Z_STOPS, range=Z_COLORS), legend=None)))


heat(G_GENES, G_Z, 788, 993, 929, 1052, 14, 9, 11)
heat(H_GENES, H_Z, 1382, 1582, 408, 1799, 13, 7, 11.4)

cbar(-1.38, 1.43, 1132, 1050, 1093, 1102, Z_STOPS, Z_COLORS, [-1.0, -0.5, 0.0, 0.5, 1.0], 12, 6, 10, "#555555")
cbar(-1.43, 1.5, 1948, 1853, 1703, 1711, Z_STOPS, Z_COLORS, [-1.0, -0.5, 0.0, 0.5, 1.0, 1.5], 12, 7, 10.5, "#555555")

# dendrograms
identx, identy = lin(0, 1761, 0, 1761), lin(0, 2006, 0, 2006)
G_DENDRO = [(738, 938, 738, 985), (738, 938, 788, 938), (738, 985, 774, 985), (774, 964, 774, 1007), (774, 964, 784, 964),
            (784, 956, 784, 973), (784, 956, 788, 956), (784, 973, 788, 973), (774, 1007, 777, 1007), (777, 991, 777, 1026),
            (777, 991, 788, 991), (777, 1026, 782, 1026), (782, 1008, 782, 1040), (782, 1008, 788, 1008), (782, 1040, 785, 1040),
            (785, 1026, 785, 1043), (785, 1026, 788, 1026), (785, 1043, 788, 1043)]
lines(G_DENDRO, identx, identy, "#555555", 1.4)


def ry(i):
    return 408 + 12.532 * (i + 0.5)


H_TOP = [(1348, 5.8, 82.4, 1370, 1363), (1370, 1.5, 14, 1374, 1373), (1374, 1.5, 1.6, 1376, 1376), (1373, 8, 18, 1376, 1376),
         (1363, 62.5, 102.2, 1372, 1367), (1372, 37.8, 87.2, 1374, 1373), (1374, 33, 52, 1376, 1376), (1373, 68, 83, 1376, 1376),
         (1367, 97, 107, 1372, 1371), (1372, 95, 99, 1376, 1376), (1371, 105.5, 108, 1376, 1376)]
H_GROUPS = [(0, 7), (8, 26), (27, 42), (43, 60), (61, 75), (76, 90), (91, 104), (105, 110)]
H_BLOCKS = [(0, 0), (1, 2), (3, 6), (7, 7), (8, 10), (11, 14), (15, 18), (19, 20), (21, 26), (27, 28), (29, 33), (34, 39), (40, 42), (43, 46),
            (47, 51), (52, 56), (57, 60), (61, 67), (68, 70), (71, 75), (76, 77), (78, 84), (85, 87), (88, 90), (91, 94), (95, 95), (96, 98),
            (99, 101), (102, 104), (105, 106), (107, 110)]
h_segs = []
for xp, a, b, xa, xb in H_TOP:
    h_segs += [(xp, ry(a), xp, ry(b)), (xp, ry(a), xa, ry(a)), (xp, ry(b), xb, ry(b))]
for a, b in H_GROUPS:
    h_segs.append((1376, ry(a), 1376, ry(b)))
for a, b in H_BLOCKS:
    h_segs += [(1379, ry(a), 1379, ry(b)), (1376, ry((a + b) / 2), 1379, ry((a + b) / 2))]
    for i in range(a, b + 1):
        h_segs.append((1379, ry(i), 1382, ry(i)))
lines(h_segs, identx, identy, "#444444", 1.0)

T("Expanded CSF CD8 T cells", 897, 916, 18.6, "center")
T("Expanded CSF CD4 T cells", 1374, 387, 18.6)
T("Z score", 1087, 1031, 18.5)
T("Z score", 1690, 1824, 17.5)
for s, x, y in [("1", 810, 1070), ("2", 865, 1072), ("3–5", 913, 1075), (">5", 967, 1074),
                ("1", 1404, 1822), ("2", 1459, 1823), ("3–5", 1507, 1829), (">5", 1557, 1827)]:
    T(s, x, y, 22, "center", 315)

G_CLUSTER = [[0.012, 0.988], [0.012, 0.988], [0.002, 0.998], [0.01, 0.99]]
G_DONOR = [[0.2, 0.17, 0.27, 0.36], [0.16, 0.06, 0.38, 0.40], [0.13, 0.15, 0.36, 0.36], [0.10, 0.27, 0.18, 0.45]]
H_CLUSTER = [[0.42, 0.30, 0.28], [0.58, 0.12, 0.30], [0.50, 0.10, 0.40], [0.40, 0.14, 0.46]]
H_DONOR = [[0.10, 0.65, 0.25], [0.05, 0.72, 0.23], [0.04, 0.72, 0.24], [0.13, 0.37, 0.50]]
pies(G_CLUSTER, ["gray", "brown"], [811, 968], 1110, 19, 1.2)
pies(G_DONOR, ["d1", "d2", "d3", "d4"], [811, 968], 1154, 19, 1.2)
pies(H_CLUSTER, ["maroon", "yellow", "green"], [1405, 1560], 1874, 19, 1.2)
pies(H_DONOR, ["d1", "d3", "d4"], [1405, 1560], 1928, 19, 1.2)
T("Cluster", 1012, 1111, 18.4)
T("Donor", 1012, 1157, 18.4)
T("Cluster", 1611, 1876, 18.4)
T("Donor", 1611, 1924, 18.4)
T("Number of cells in clonal group", 762.7, 1206, 18.2)
arrow(1025, 1065, 1207)
T("Number of cells in clonal group", 1352, 1983, 18.2)
arrow(1614, 1655, 1983)

# panel letters
for s, x, y in [("A", 20, 29.5), ("B", 1037, 29.5), ("C", 22, 477), ("D", 36, 915), ("E", 36, 1164), ("F", 42, 1480), ("G", 686, 915),
                ("H", 1336, 386), ("I", 689, 1269)]:
    T(s, x, y, 35, "center", weight="bold", color="#231f20")

chart = (alt.layer(*layers)
         .resolve_scale(x="independent", y="independent", color="independent", theta="independent")
         .properties(width=W, height=H, padding=0, background="white",
                     autosize=alt.AutoSizeParams(type="none"))
         .configure_view(stroke=None))
chart.save("out.html", embed_options={"renderer": "svg", "actions": False})
